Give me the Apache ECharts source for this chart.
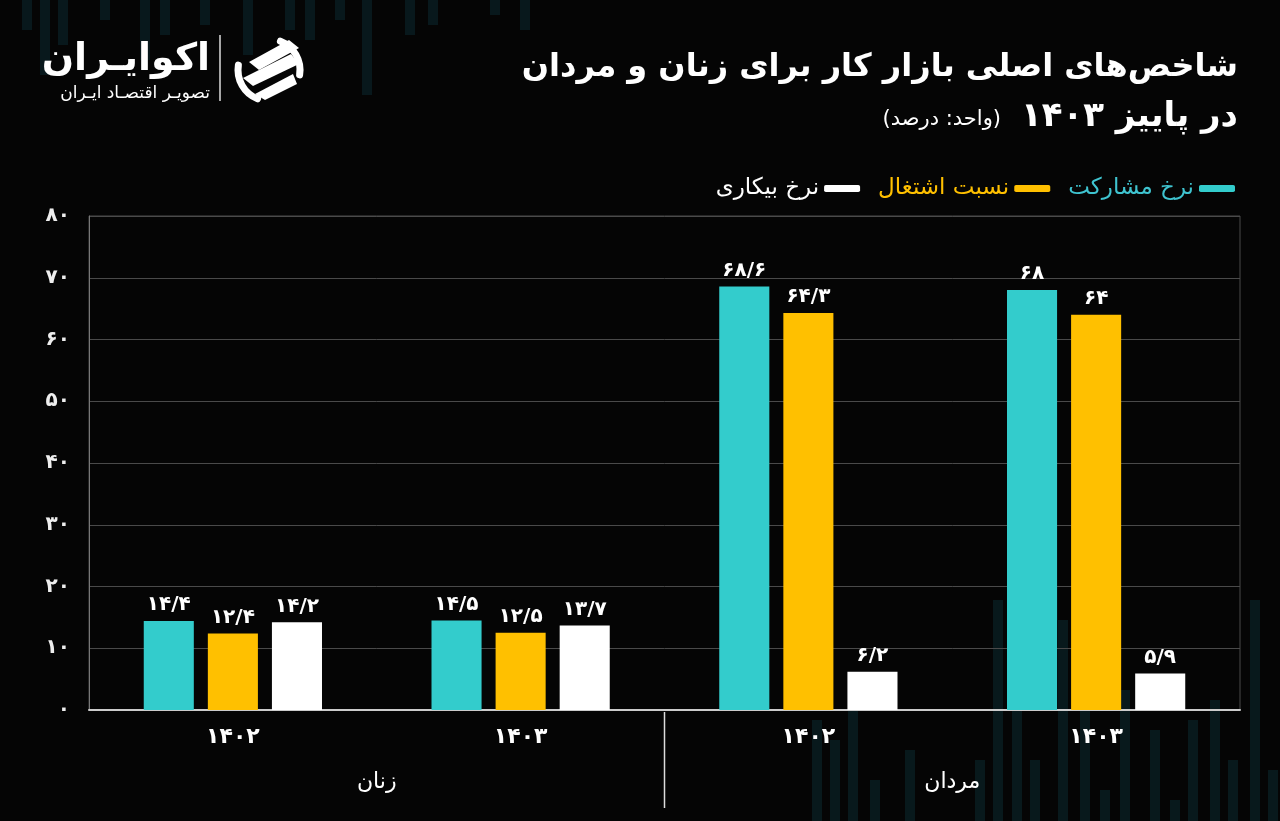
<!DOCTYPE html>
<html>
<head>
<meta charset="utf-8">
<script src="https://cdn.jsdelivr.net/npm/echarts@6/dist/echarts.min.js"></script>
<style>
html,body{margin:0;padding:0;background:#050505;}
#chart{width:1280px;height:821px;direction:rtl;}
</style>
</head>
<body>
<div id="chart"></div>
<script>
// ---- data ----
const categories = ['۱۴۰۲', '۱۴۰۳', '۱۴۰۲', '۱۴۰۳'];
const groups = ['زنان', 'مردان'];
const seriesNames = ['نرخ مشارکت', 'نسبت اشتغال', 'نرخ بیکاری'];
const participation = [14.4, 14.5, 68.6, 68];
const employment = [12.4, 12.5, 64.3, 64];
const unemployment = [14.2, 13.7, 6.2, 5.9];
const yMin = 0, yMax = 80, yStep = 10;

const FONT = 'DejaVu Sans';
const colors = ['#33CCCC', '#FFC000', '#FFFFFF'];
const legendTextColors = ['#3FC4D0', '#FFC000', '#FFFFFF'];

function toFa(v) {
  return String(v).replace(/\d/g, d => '۰۱۲۳۴۵۶۷۸۹'[+d]).replace('.', '/');
}

const chart = echarts.init(document.getElementById('chart'), null, {renderer: 'canvas'});

const values = [participation, employment, unemployment];
const series = seriesNames.map((name, i) => ({
  name: name,
  type: 'bar',
  data: values[i],
  barWidth: '17.4%',
  barGap: '28%',
  itemStyle: {color: colors[i]},
  label: {
    show: true,
    position: 'top',
    distance: 6,
    color: '#fff',
    fontFamily: FONT,
    fontWeight: 'bold',
    fontSize: 20,
    formatter: p => toFa(p.value)
  }
}));

// decorative faint background bars (not data)
const deco = [];
const topBars = [[22,0,30],[40,0,75],[58,0,45],[100,0,20],[140,0,60],[160,0,35],[200,0,25],[243,0,55],[285,0,30],[305,0,40],[335,0,20],[362,0,95],[405,0,35],[428,0,25],[490,0,15],[520,0,30]];
topBars.forEach(b => deco.push({type:'rect', silent:true, z:-10, shape:{x:b[0], y:b[1], width:10, height:b[2]}, style:{fill:'#08181c'}}));
const botBars = [[812,720,101],[830,740,81],[848,690,131],[870,780,41],[905,750,71],[975,760,61],[993,600,221],[1012,700,121],[1030,760,61],[1058,620,201],[1080,690,131],[1100,790,31],[1120,690,131],[1150,730,91],[1170,800,21],[1188,720,101],[1210,700,121],[1228,760,61],[1250,600,221],[1268,770,51]];
botBars.forEach(b => deco.push({type:'rect', silent:true, z:-10, shape:{x:b[0], y:b[1], width:10, height:b[2]}, style:{fill:'#08191c'}}));

const option = {
  backgroundColor: '#050505',
  animation: false,
  textStyle: {fontFamily: FONT},
  grid: {left: 89, right: 40, top: 216, bottom: 111, show: true, borderColor: '#4a4a4a', borderWidth: 1},
  legend: {
    right: 40,
    top: 172,
    align: 'right',
    itemWidth: 36,
    itemHeight: 7,
    itemGap: 18,
    icon: 'roundRect',
    data: [
      {name: seriesNames[2], textStyle: {color: legendTextColors[2]}},
      {name: seriesNames[1], textStyle: {color: legendTextColors[1]}},
      {name: seriesNames[0], textStyle: {color: legendTextColors[0]}}
    ],
    textStyle: {fontFamily: FONT, fontSize: 23, padding: [0, 0, 0, 0]}
  },
  xAxis: [
    {
      type: 'category',
      data: categories,
      position: 'bottom',
      axisLine: {show: true, lineStyle: {color: '#cccccc', width: 2}},
      axisTick: {show: false},
      axisLabel: {color: '#fff', fontFamily: FONT, fontWeight: 'bold', fontSize: 22, margin: 16}
    },
    {
      type: 'category',
      data: groups,
      position: 'bottom',
      axisLine: {show: false},
      axisTick: {show: false},
      axisLabel: {color: '#fff', fontFamily: FONT, fontSize: 22, margin: 61}
    }
  ],
  yAxis: {
    type: 'value',
    min: yMin,
    max: yMax,
    interval: yStep,
    axisLine: {show: true, lineStyle: {color: '#777', width: 1}},
    axisTick: {show: false},
    splitLine: {lineStyle: {color: '#4a4a4a', width: 1}},
    axisLabel: {color: '#eee', fontFamily: FONT, fontWeight: 'bold', fontSize: 20, margin: 19, formatter: v => toFa(v)}
  },
  series: series,
  graphic: deco.concat([
    {type: 'text', z: 10, style: {text: 'شاخص‌های اصلی بازار کار برای زنان و مردان', x: 1238, y: 68, align: 'right', verticalAlign: 'middle', font: 'bold 32px "DejaVu Sans"', fill: '#fff'}},
    {type: 'text', z: 10, style: {text: 'در پاییز ۱۴۰۳', x: 1238, y: 117, align: 'right', verticalAlign: 'middle', font: 'bold 34px "DejaVu Sans"', fill: '#fff'}},
    {type: 'text', z: 10, style: {text: '(واحد: درصد)', x: 1001, y: 120, align: 'right', verticalAlign: 'middle', font: '21px "DejaVu Sans"', fill: '#fff'}},
    {type: 'text', z: 10, style: {text: 'اکوایـران', x: 210, y: 60, align: 'right', verticalAlign: 'middle', font: 'bold 38px "DejaVu Sans"', fill: '#fff'}},
    {type: 'text', z: 10, style: {text: 'تصویـر اقتصـاد ایـران', x: 210, y: 94, align: 'right', verticalAlign: 'middle', font: '17px "DejaVu Sans"', fill: '#fff'}},
    {type: 'line', z: 10, shape: {x1: 220, y1: 35, x2: 220, y2: 101}, style: {stroke: '#ddd', lineWidth: 1.5}},
    // logo mark
    {type: 'group', z: 10, x: 269, y: 70, children: [
      {type: 'arc', shape: {cx: 0, cy: 0, r: 31, startAngle: Math.PI * 0.62, endAngle: Math.PI * 1.05}, style: {stroke: '#fff', lineWidth: 7, fill: null, lineCap: 'round'}},
      {type: 'arc', shape: {cx: 0, cy: 0, r: 31, startAngle: Math.PI * 1.62, endAngle: Math.PI * 2.05}, style: {stroke: '#fff', lineWidth: 7, fill: null, lineCap: 'round'}},
      {type: 'polygon', shape: {points: [[-20, -8], [20, -30], [30, -22], [-10, 0]]}, style: {fill: '#fff'}},
      {type: 'polygon', shape: {points: [[-26, 8], [22, -16], [30, -6], [-16, 16]]}, style: {fill: '#fff'}},
      {type: 'polygon', shape: {points: [[-14, 24], [24, 4], [28, 14], [-4, 30]]}, style: {fill: '#fff'}}
    ]}
  ])
};

chart.setOption(option);

// divider between the two groups, placed through the library's own x scale
const xMid = (chart.convertToPixel({xAxisIndex: 0}, 1) + chart.convertToPixel({xAxisIndex: 0}, 2)) / 2;
const yBase = chart.convertToPixel({yAxisIndex: 0}, yMin);
option.graphic.push({type: 'line', z: 10, shape: {x1: xMid, y1: yBase + 2, x2: xMid, y2: yBase + 98}, style: {stroke: '#ddd', lineWidth: 1.5}});
chart.setOption({graphic: option.graphic});
</script>
</body>
</html>
